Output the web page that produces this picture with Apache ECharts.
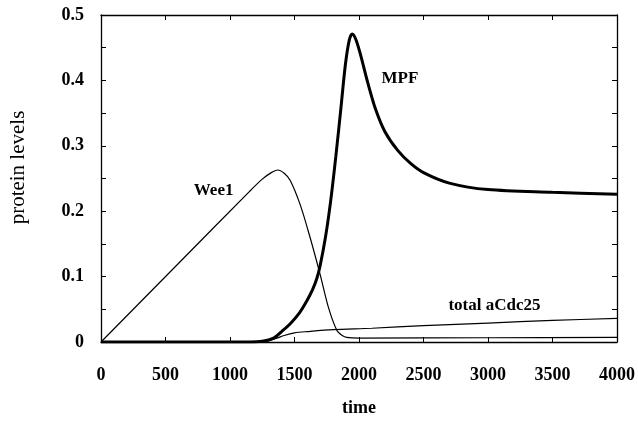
<!DOCTYPE html>
<html>
<head>
<meta charset="utf-8">
<script src="https://cdn.jsdelivr.net/npm/echarts@6/dist/echarts.min.js"></script>
<style>
  html, body { margin: 0; padding: 0; background: #fff; }
  #main { width: 638px; height: 422px; }
</style>
</head>
<body>
<div id="main"></div>
<script>
// values
var wee1Time = [0, 600, 1150, 1250, 1320, 1369, 1420, 1467, 1544, 1622, 1699, 1763, 1828, 1870, 1905, 2000, 3000, 4000];
var wee1Level = [0, 0.120, 0.230, 0.249, 0.259, 0.263, 0.258, 0.247, 0.210, 0.159, 0.103, 0.053, 0.018, 0.010, 0.007, 0.006, 0.0065, 0.007];

var mpfTime = [0, 1150, 1250, 1338, 1400, 1467, 1540, 1596, 1640, 1673, 1700, 1740, 1780, 1820, 1860, 1895, 1925, 1948, 1975, 2008, 2070, 2130, 2200, 2300, 2400, 2500, 2700, 3000, 3500, 4000];
var mpfLevel = [0, 0, 0.001, 0.006, 0.016, 0.028, 0.045, 0.063, 0.080, 0.097, 0.118, 0.160, 0.215, 0.283, 0.358, 0.425, 0.462, 0.471, 0.463, 0.442, 0.395, 0.355, 0.322, 0.293, 0.273, 0.259, 0.243, 0.233, 0.229, 0.226];

var cdcTime = [0, 1250, 1350, 1420, 1500, 1600, 1800, 2100, 2500, 3000, 3500, 4000];
var cdcLevel = [0, 0, 0.005, 0.010, 0.014, 0.016, 0.019, 0.021, 0.025, 0.029, 0.033, 0.036];

var xTicks = [0, 4000, 500];
var yTicks = [0, 0.5, 0.05];

// curve labels, in data units
var labelText = ['Wee1', 'MPF', 'total aCdc25'];
var labelAt = [[873, 0.232], [2317, 0.402], [3050, 0.056]];

function pairs(t, v) {
    var out = [];
    for (var i = 0; i < t.length; i++) out.push([t[i], v[i]]);
    return out;
}

var serif = '"Liberation Serif", "DejaVu Serif", serif';
var black = '#000';

function tag(i) {
    return {
        symbolSize: 0,
        silent: true,
        data: [{
            coord: labelAt[i],
            label: {
                show: true,
                position: 'inside',
                formatter: labelText[i],
                fontFamily: serif,
                fontWeight: 'bold',
                fontSize: 17,
                color: black
            }
        }]
    };
}

var chart = echarts.init(document.getElementById('main'));

var axisLine = { show: true, onZero: false, lineStyle: { color: black, width: 1.3 } };
var tick = { show: true, inside: true, length: 5, lineStyle: { color: black } };

var option = {
    animation: false,
    backgroundColor: '#fff',
    grid: { left: 100, right: 20, top: 15, bottom: 77 },
    xAxis: [{
        type: 'value',
        min: xTicks[0], max: xTicks[1], interval: xTicks[2],
        name: 'time',
        nameLocation: 'middle',
        nameGap: 57,
        nameTextStyle: { fontFamily: serif, fontWeight: 'bold', fontSize: 18, color: black },
        axisLine: axisLine,
        axisTick: tick,
        axisLabel: {
            margin: 24, fontFamily: serif, fontWeight: 'bold', fontSize: 18, color: black,
            formatter: function (v) { return String(v); }
        },
        splitLine: { show: false }
    }, {
        type: 'value',
        position: 'top',
        min: xTicks[0], max: xTicks[1], interval: xTicks[2],
        axisLine: axisLine,
        axisTick: tick,
        axisLabel: { show: false },
        splitLine: { show: false }
    }],
    yAxis: [{
        type: 'value',
        min: yTicks[0], max: yTicks[1], interval: yTicks[2],
        name: 'protein levels',
        nameLocation: 'middle',
        nameGap: 72,
        nameTextStyle: { fontFamily: serif, fontSize: 21, color: black, padding: [0, 0, 0, 22] },
        axisLine: axisLine,
        axisTick: tick,
        axisLabel: {
            margin: 17, fontFamily: serif, fontWeight: 'bold', fontSize: 18, color: black,
            formatter: function (v) {
                var k = Math.round(v * 100);
                return k % 10 === 0 ? String(k / 100) : '';
            }
        },
        splitLine: { show: false }
    }, {
        type: 'value',
        position: 'right',
        min: yTicks[0], max: yTicks[1], interval: yTicks[2],
        axisLine: axisLine,
        axisTick: tick,
        axisLabel: { show: false },
        splitLine: { show: false }
    }],
    series: [{
        name: 'Wee1',
        type: 'line',
        data: pairs(wee1Time, wee1Level),
        showSymbol: false,
        smooth: 0.3,
        lineStyle: { color: black, width: 1.2 },
        markPoint: tag(0)
    }, {
        name: 'total aCdc25',
        type: 'line',
        data: pairs(cdcTime, cdcLevel),
        showSymbol: false,
        smooth: 0.3,
        lineStyle: { color: black, width: 1.2 },
        markPoint: tag(2)
    }, {
        name: 'MPF',
        type: 'line',
        data: pairs(mpfTime, mpfLevel),
        showSymbol: false,
        smooth: 0.3,
        lineStyle: { color: black, width: 3 },
        markPoint: tag(1)
    }]
};

chart.setOption(option);
</script>
</body>
</html>
